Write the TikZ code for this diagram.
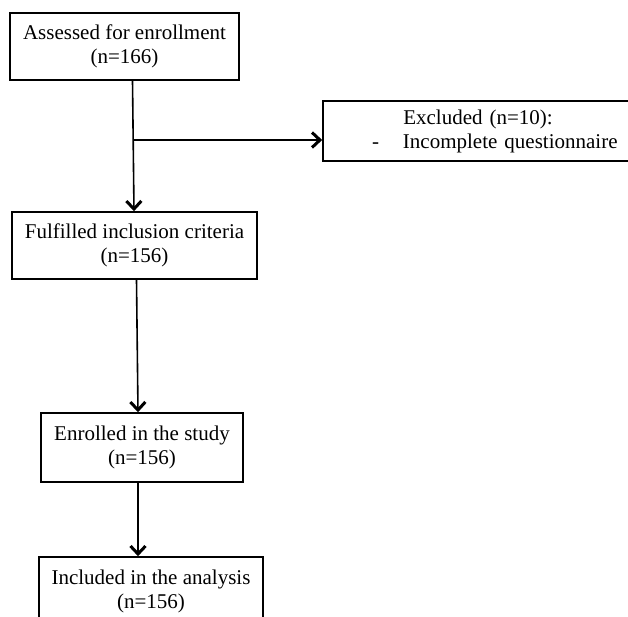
\documentclass[tikz,border=0pt]{standalone}
\usepackage{fontspec}
\setmainfont{Liberation Serif}
\usetikzlibrary{arrows.meta,calc}
\begin{document}
\begin{tikzpicture}[x=1pt,y=-1pt,
  box/.style={draw,line width=1.6pt,inner sep=0pt,align=center,
    font=\fontsize{21}{24}\selectfont},
  arr/.style={line width=1.6pt,-{Straight Barb[length=8pt,width=15pt,line width=3pt]}}]
\useasboundingbox (0,0) rectangle (628,617);
\clip (0,0) rectangle (628,617);
\fill[white] (0,0) rectangle (628,617);
\node[box,minimum width=229pt,minimum height=67pt] (A) at (124.5,46.5)
  {Assessed for enrollment\\(n=166)};
\node[box,minimum width=310pt,minimum height=60pt,text width=310pt,align=left] (X) at (478,131)
  {{\centering Excluded (n=10):\par}\hspace*{49pt}-\hspace*{24pt}Incomplete questionnaire};
\node[box,minimum width=245pt,minimum height=67pt] (F) at (134.5,245.5)
  {Fulfilled inclusion criteria\\(n=156)};
\node[box,minimum width=202pt,minimum height=69pt] (E) at (142,447.5)
  {Enrolled in the study\\(n=156)};
\node[box,minimum width=224pt,minimum height=68pt] (I) at (151,591)
  {Included in the analysis\\(n=156)};
\coordinate (br) at (134,140);
\draw[arr] ([xshift=8pt]A.south) -- ([xshift=-0.5pt]F.north);
\draw[arr] (br) -- (X.west |- br);
\draw[arr] ([xshift=2pt]F.south) -- ([xshift=-4pt]E.north);
\draw[arr] ([xshift=-4pt]E.south) -- ([xshift=-13pt]I.north);
\end{tikzpicture}
\end{document}
